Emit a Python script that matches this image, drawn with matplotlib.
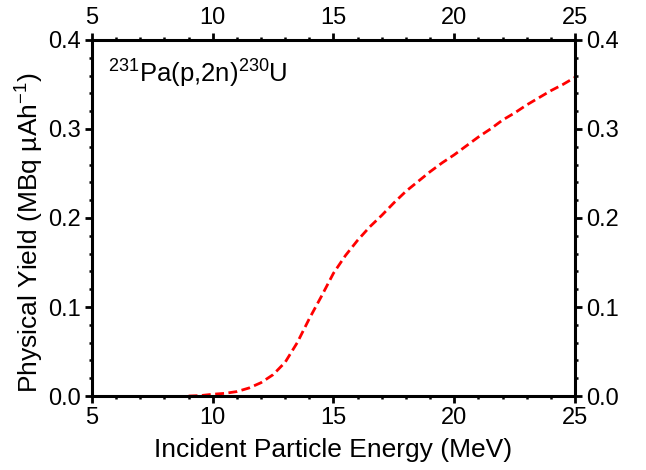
import matplotlib.pyplot as plt
from matplotlib.ticker import MultipleLocator

plt.rcParams['font.family'] = ['Liberation Sans', 'DejaVu Sans']
plt.rcParams['mathtext.default'] = 'regular'

# Physical yield of 230U from proton irradiation of 231Pa
energy = [9.0, 9.5, 10.0, 10.5, 11.0, 11.5, 12.0, 12.5, 13.0, 13.5, 14.0,
          14.5, 15.0, 15.5, 16.0, 16.5, 17.0, 17.5, 18.0, 18.5, 19.0, 19.5,
          20.0, 20.5, 21.0, 21.5, 22.0, 22.5, 23.0, 23.5, 24.0, 24.5, 25.0]
yield_mbq = [0.0, 0.0005, 0.002, 0.003, 0.005, 0.009, 0.015, 0.024, 0.038,
             0.060, 0.087, 0.112, 0.138, 0.158, 0.175, 0.190, 0.203, 0.217,
             0.230, 0.241, 0.252, 0.262, 0.271, 0.281, 0.291, 0.300, 0.310,
             0.318, 0.327, 0.335, 0.343, 0.350, 0.358]

fig = plt.figure(figsize=(6.46, 4.70), dpi=100)
ax = fig.add_axes([0.1424, 0.1574, 0.7477, 0.7576])

ax.plot(energy, yield_mbq, color='red', lw=2.0, linestyle=(0, (3.2, 1.6)),
        dash_capstyle='butt')

ax.set_xlim(5, 25)
ax.set_ylim(0, 0.4)
ax.xaxis.set_major_locator(MultipleLocator(5))
ax.xaxis.set_minor_locator(MultipleLocator(1))
ax.yaxis.set_major_locator(MultipleLocator(0.1))
ax.yaxis.set_minor_locator(MultipleLocator(0.02))
ax.yaxis.set_major_formatter(plt.FuncFormatter(lambda v, p: f'{v:.1f}'))

for sp in ax.spines.values():
    sp.set_linewidth(2.2)

ax.tick_params(which='both', direction='out', top=True, right=True,
               labeltop=True, labelright=True, labelsize=17)
ax.tick_params(which='major', length=5, width=2.0, pad=3)
ax.tick_params(which='minor', length=2, width=1.8)

ax.set_xlabel('Incident Particle Energy (MeV)', fontsize=19)
ax.set_ylabel(r'Physical Yield (MBq µAh$^{-1}$)', fontsize=19)
ax.xaxis.set_label_coords(0.5, -0.118)
ax.yaxis.set_label_coords(-0.095, 0.46)

ax.text(5.66, 0.352, r'$^{231}$Pa(p,2n)$^{230}$U', fontsize=18.5,
        ha='left', va='baseline')

fig.savefig('out.png', dpi=100)
